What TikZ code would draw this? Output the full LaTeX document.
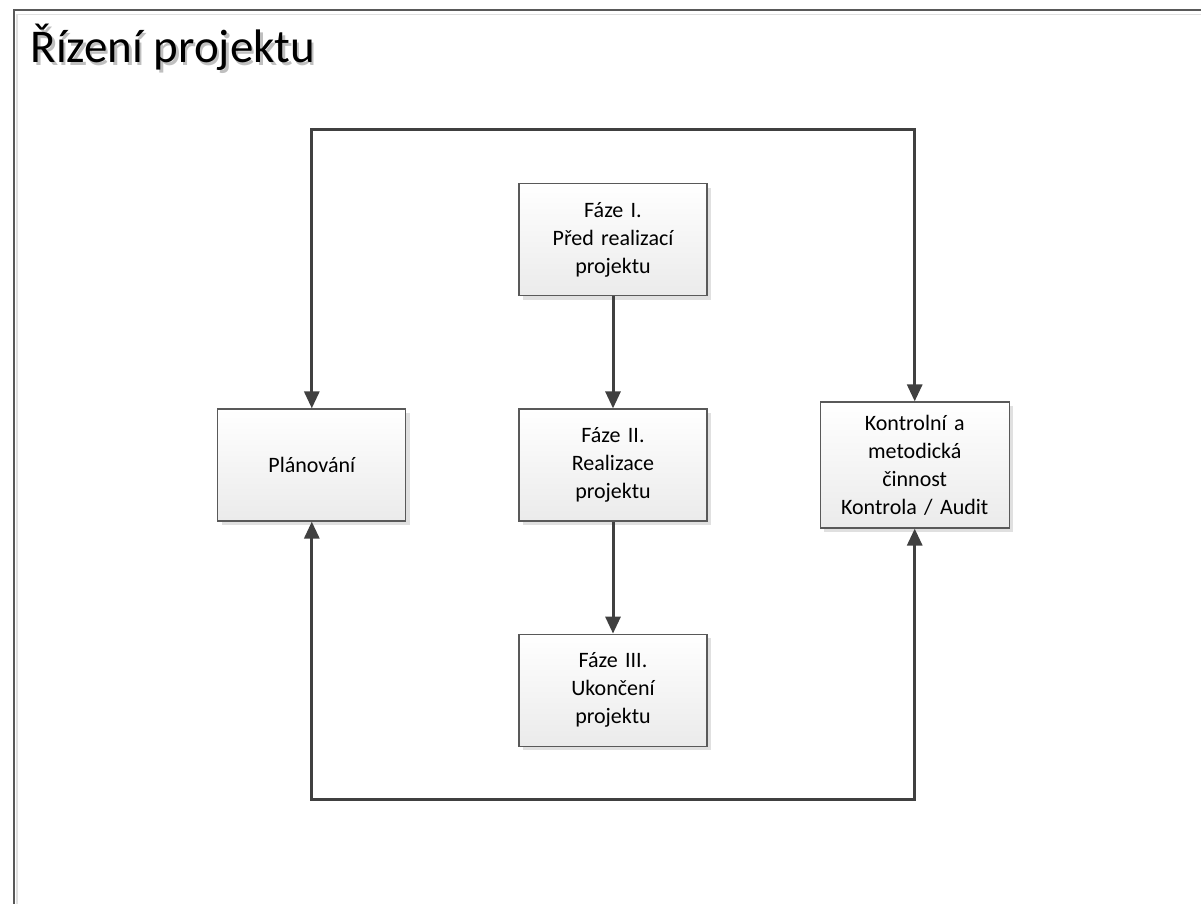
\documentclass[tikz,border=0pt]{standalone}
\usepackage{fontspec}
\setmainfont{Carlito}
\usetikzlibrary{arrows.meta, positioning, shadows}
\tikzset{
node distance=112pt,
>={Triangle[length=17pt,width=15pt]},
line/.style={draw=black!75, line width=3pt},
frame/.style={draw=black!65, line width=2pt},
box/.style={%
    rectangle,
    minimum width=188pt,
    minimum height=112pt,
    text width=176pt,
    align=center,
    draw=black!65,
    line width=1.2pt,
    top color=white,
    bottom color=black!8,
    drop shadow={shadow xshift=4pt, shadow yshift=-4pt, fill=black!12, opacity=1},
    % Font
    font=\fontsize{22}{28}\selectfont
},
title/.style={anchor=base west, font=\fontsize{47}{56}\selectfont},
}

\begin{document}
\begin{tikzpicture}[x=1pt, y=-1pt]
	\useasboundingbox (0,0) rectangle (1201,904);
	% page frame
	\draw[black!12, line width=1.5pt] (17,904) -- (17,14.5) -- (1201,14.5);
	\draw[frame] (13.5,904) -- (13.5,10.5) -- (1201,10.5);

	\node[title, text=black!25] (titleshadow) at (29.5,65.5) {Řízení projektu};
	\node[title] (title) at (27,63) {Řízení projektu};

	\node[box] (faze2) at (613,465) {Fáze II.\\Realizace\\projektu};
	\node[box, above=of faze2] (faze1) {Fáze I.\\Před realizací\\projektu};
	\node[box, below=of faze2] (faze3) {Fáze III.\\Ukončení\\projektu};
	\node[box, left=of faze2] (plan) {Plánování};
	\node[box, right=of faze2, minimum width=189pt, minimum height=126pt] (kontrola) {Kontrolní a\\metodická\\činnost\\Kontrola / Audit};
	\coordinate[above=279pt of plan.north] (looptop);
	\coordinate[below=278pt of plan.south] (loopbot);

	\draw[line, ->] (faze1) -- (faze2);
	\draw[line, ->] (faze2) -- (faze3);
	\draw[line, <->] (plan.north) -- (looptop) -| (kontrola.north);
	\draw[line, <->] (plan.south) -- (loopbot) -| (kontrola.south);
\end{tikzpicture}
\end{document}
